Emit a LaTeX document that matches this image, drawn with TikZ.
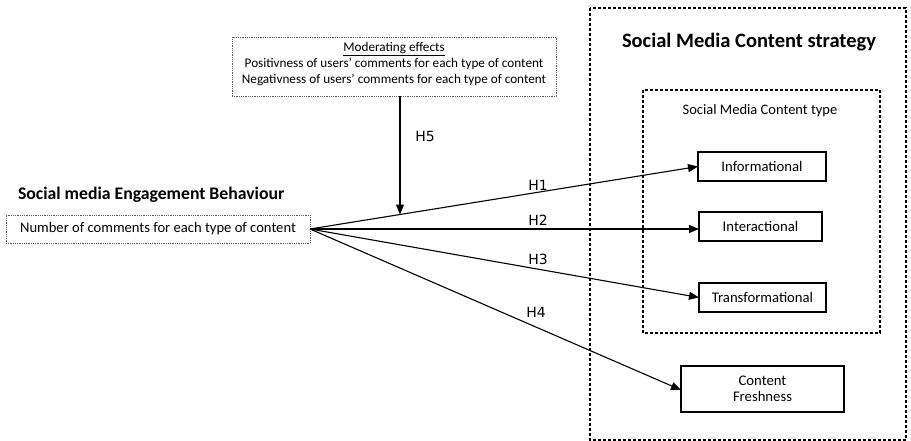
\documentclass[tikz,border=0pt]{standalone}
\usepackage{fontspec}
\setmainfont{Carlito}
\newfontfamily\hfont{DejaVu Sans}
\usetikzlibrary{arrows.meta,calc}
\begin{document}
\begin{tikzpicture}[x=1pt,y=-1pt,
  every node/.style={inner sep=0pt,outer sep=0pt},
  solidbox/.style={draw=black,line width=1.4pt,align=center,font=\fontsize{14.7}{17}\selectfont},
  dotbox/.style={draw=black!65,densely dotted,line width=0.8pt,align=center},
  region/.style={draw=black,dash pattern=on 3pt off 2pt,line width=1.1pt},
  hyp/.style={-{Triangle[length=10pt,width=8pt]},line width=1.1pt},
  hlabel/.style={font=\hfont\fontsize{14}{16}\selectfont}]
\useasboundingbox (0,0) rectangle (911,441);

% content strategy regions
\draw[region] (590,8) rectangle (906,440);
\draw[region] (643,90) rectangle (880,333);
\node[font=\bfseries\fontsize{20.5}{24}\selectfont] (strat) at (749,42) {Social Media Content strategy};
\node[font=\fontsize{14.5}{17}\selectfont] (ctype) at (760,111) {Social Media Content type};

% outcome boxes
\node[solidbox,minimum width=128pt,minimum height=29pt] (inf) at (762,166.5) {Informational};
\node[solidbox,minimum width=123pt,minimum height=29pt] (int) at (760.5,226.5) {Interactional};
\node[solidbox,minimum width=127pt,minimum height=29pt] (tra) at (762.5,297.5) {Transformational};
\node[solidbox,minimum width=163pt,minimum height=46pt] (fre) at (762.5,389) {Content\\[-1pt]Freshness};

% engagement behaviour
\node[font=\bfseries\fontsize{17.7}{21}\selectfont,anchor=west] (eng) at (18,195) {Social media Engagement Behaviour};
\node[dotbox,minimum width=304pt,minimum height=28pt,font=\fontsize{14.6}{17}\selectfont] (num) at (158,229) {Number of comments for each type of content};

% moderating effects: frame and its text
\node[dotbox,minimum width=324pt,minimum height=59pt] (mod) at (394,66.5) {};
\node[align=center,font=\fontsize{13.2}{16.2}\selectfont] (modtxt) at ([yshift=2.5pt]mod.center)
  {\underline{Moderating effects}\\Positivness of users’ comments for each type of content\\Negativness of users’ comments for each type of content};

% hypotheses
\coordinate (src) at (num.east);
\draw[hyp] (src) -- (inf.west);
\draw[hyp] (src) -- (int.west |- src);
\draw[hyp] (src) -- (tra.west);
\draw[hyp] (src) -- ([yshift=-1pt]fre.west);
\coordinate (hit) at ($(src)!0.232!(inf.west)$);
\draw[hyp] (mod.south -| hit) -- (hit);

\node[hlabel] (h1) at (538,185) {H1};
\node[hlabel] (h2) at (538,220) {H2};
\node[hlabel] (h3) at (538,259) {H3};
\node[hlabel] (h4) at (536,312) {H4};
\node[hlabel] (h5) at (425,136) {H5};
\end{tikzpicture}
\end{document}
